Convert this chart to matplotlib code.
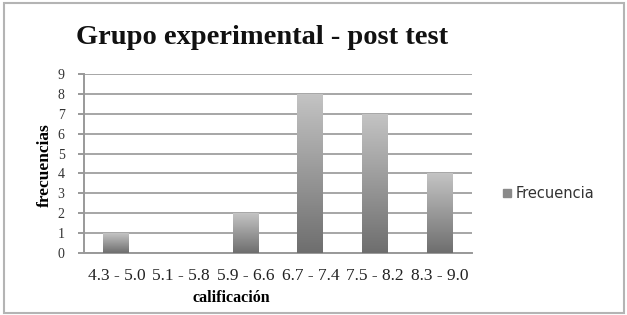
import numpy as np
import matplotlib
matplotlib.use('Agg')
import matplotlib.pyplot as plt
from matplotlib.patches import Rectangle

categories = ["4.3 - 5.0", "5.1 - 5.8", "5.9 - 6.6", "6.7 - 7.4", "7.5 - 8.2", "8.3 - 9.0"]
frecuencia = [1, 0, 2, 8, 7, 4]
y_ticks = list(range(0, 10))

plt.rcParams['font.family'] = ['Liberation Serif', 'DejaVu Serif']

W, H = 627, 315
fig = plt.figure(figsize=(W / 100, H / 100), dpi=100)

# outer frame
fig.patches.append(Rectangle((4 / W, 1 - 313 / H), 620 / W, 310 / H,
                             transform=fig.transFigure, fill=False,
                             edgecolor='#b4b4b4', linewidth=1.5))

ax = fig.add_axes([84 / W, 1 - 253 / H, (472 - 84) / W, (253 - 74) / H])
x = np.arange(len(categories))
bars = ax.bar(x, frecuencia, width=0.4, color='none', zorder=3)

# vertical gradient fill: lighter top, darker bottom
grad = np.linspace(0, 1, 256).reshape(-1, 1)
cmap = matplotlib.colors.LinearSegmentedColormap.from_list('g', ['#6e6e6e', '#c4c4c4'])
for b in bars:
    if b.get_height() <= 0:
        continue
    x0, w, h = b.get_x(), b.get_width(), b.get_height()
    im = ax.imshow(grad, cmap=cmap, aspect='auto', origin='lower',
                   extent=[x0, x0 + w, 0, h], zorder=3)
    im.set_clip_path(b)

ax.set_xlim(-0.5, len(categories) - 0.5)
ax.set_ylim(0, 9)
ax.set_yticks(y_ticks)
ax.set_xticks(x)
ax.set_xticklabels(categories, fontsize=12.5, color='#222222')
ax.tick_params(axis='y', labelsize=10, colors='#888888', labelcolor='#333333',
               length=4, width=1.2, pad=10)
ax.tick_params(axis='x', length=0, pad=11)
ax.grid(axis='y', color='#a6a6a6', linewidth=1.4, zorder=0)
for s in ['top', 'right']:
    ax.spines[s].set_visible(False)
ax.spines['left'].set_color('#999999')
ax.spines['left'].set_linewidth(1.4)
ax.spines['bottom'].set_color('#999999')
ax.spines['bottom'].set_linewidth(1.4)

fig.text(231 / W, 1 - 298 / H, "calificación", ha='center', va='center',
         fontsize=11.5, fontweight='bold')
fig.text(45 / W, 1 - 165 / H, "frecuencias", ha='center', va='center', rotation=90,
         fontsize=12.5, fontweight='bold')

fig.text(262 / W, 1 - 38 / H, "Grupo experimental - post test", ha='center', va='center',
         fontsize=20.5, fontweight='bold', color='#111111')

# legend
fig.patches.append(Rectangle((503 / W, 1 - 197 / H), 8 / W, 8 / H,
                             transform=fig.transFigure, color='#8a8a8a'))
fig.text(516 / W, 1 - 193 / H, "Frecuencia", fontsize=10.5, va='center', color='#333333',
         family='DejaVu Sans')

fig.savefig("out.png", dpi=100)
